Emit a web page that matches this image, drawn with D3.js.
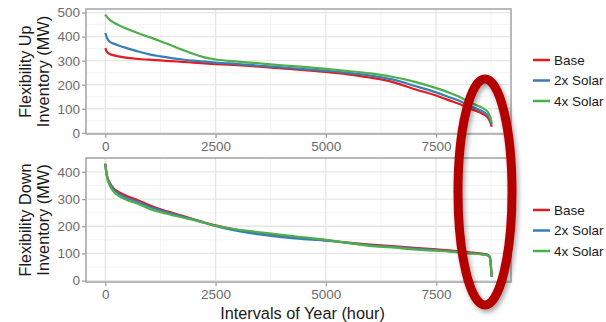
<!DOCTYPE html>
<html>
<head>
<meta charset="utf-8">
<script src="https://cdn.jsdelivr.net/npm/d3@7"></script>
<style>
  body { margin: 0; background: #fff; }
  svg { display: block; font-family: "Liberation Sans", Arial, sans-serif; }
</style>
</head>
<body>
<div id="chart"></div>
<script>
// series names and colours
const seriesNames = ["Base", "2x Solar", "4x Solar"];
const seriesColors = ["#E41A1C", "#377EB8", "#4DAF4A"];

// x axis (hours)
const xTicks = [0, 2500, 5000, 7500];

// flexibility up inventory (MW)
const hoursUp = [0, 25, 50, 100, 200, 300, 500, 750, 1000, 1250, 1500, 1750, 2000, 2250, 2500,
                 3000, 3500, 4000, 4500, 5000, 5500, 6000, 6500, 7000, 7500, 7800, 8000, 8250,
                 8500, 8600, 8700, 8740, 8760];
const upBase   = [352, 340, 334, 328, 322, 318, 312, 307, 304, 301, 298, 295, 292, 289, 286,
                  281, 275, 268, 261, 253, 243, 230, 212, 182, 155, 135, 122, 102,
                  84, 74, 55, 38, 25];
const upSolar2 = [415, 400, 390, 379, 370, 363, 351, 338, 326, 318, 311, 305, 300, 296, 292,
                  286, 279, 272, 265, 258, 249, 238, 222, 196, 168, 148, 135, 113,
                  94, 84, 66, 48, 35];
const upSolar4 = [492, 485, 479, 470, 458, 448, 432, 414, 398, 381, 363, 345, 328, 314, 305,
                  296, 289, 281, 274, 266, 257, 247, 233, 213, 186, 167, 152, 128,
                  108, 98, 78, 58, 42];
const upTicks = [0, 100, 200, 300, 400, 500];

// flexibility down inventory (MW)
const hoursDown = [0, 25, 50, 100, 200, 300, 500, 750, 1000, 1250, 1500, 1750, 2000, 2250, 2500,
                   3000, 3500, 4000, 4500, 5000, 5500, 6000, 6500, 7000, 7500, 7800, 8000, 8250,
                   8500, 8600, 8680, 8720, 8745, 8760];
const downBase   = [430, 398, 378, 360, 337, 326, 310, 295, 277, 262, 250, 238, 226, 214, 203,
                    186, 174, 163, 155, 148, 140, 133, 127, 121, 115, 111, 108, 104,
                    100, 98, 94, 86, 50, 15];
const downSolar2 = [428, 396, 375, 356, 332, 320, 303, 289, 272, 259, 247, 236, 225, 213, 201,
                    183, 170, 160, 153, 147, 139, 130, 124, 118, 112, 108, 105, 101,
                    98, 96, 93, 85, 48, 15];
const downSolar4 = [430, 395, 372, 350, 325, 312, 296, 282, 264, 252, 242, 232, 223, 212, 202,
                    188, 178, 168, 159, 150, 139, 128, 122, 115, 110, 107, 104, 100,
                    97, 95, 91, 83, 45, 15];
const downTicks = [0, 100, 200, 300, 400];

// size setup
const width = 606, height = 322;
const plotLeft = 86, plotRight = 511;

const svg = d3.select("#chart").append("svg")
    .attr("width", width)
    .attr("height", height);

// drop shadow for the highlight ellipse
svg.append("defs").append("filter")
    .attr("id", "shadow")
    .attr("x", "-50%").attr("y", "-50%").attr("width", "200%").attr("height", "200%")
  .append("feDropShadow")
    .attr("dx", 2).attr("dy", 3)
    .attr("stdDeviation", 2.5)
    .attr("flood-color", "#000")
    .attr("flood-opacity", 0.35);

const xScale = d3.scaleLinear().domain([-438, 9198]).range([plotLeft, plotRight]);

function midpoints(ticks){
    const step = ticks[1] - ticks[0];
    return ticks.map(t => t + step / 2);
}

function drawPanel(cfg){
    const yScale = d3.scaleLinear().domain(cfg.yDomain).range([cfg.bottom, cfg.top]);
    const g = svg.append("g");

    // panel background
    g.append("rect")
        .attr("x", plotLeft).attr("y", cfg.top)
        .attr("width", plotRight - plotLeft).attr("height", cfg.bottom - cfg.top)
        .attr("fill", "#fff");

    // minor grid
    const xMinor = midpoints(xTicks).filter(v => v < xScale.domain()[1]);
    const yMinor = midpoints(cfg.yTicks).filter(v => v < cfg.yDomain[1]);
    g.selectAll(".xminor").data(xMinor).enter().append("line")
        .attr("x1", d => xScale(d)).attr("x2", d => xScale(d))
        .attr("y1", cfg.top).attr("y2", cfg.bottom)
        .attr("stroke", "#f4f4f4").attr("stroke-width", 1);
    g.selectAll(".yminor").data(yMinor).enter().append("line")
        .attr("x1", plotLeft).attr("x2", plotRight)
        .attr("y1", d => yScale(d)).attr("y2", d => yScale(d))
        .attr("stroke", "#f4f4f4").attr("stroke-width", 1);

    // major grid
    g.selectAll(".xmajor").data(xTicks).enter().append("line")
        .attr("x1", d => xScale(d)).attr("x2", d => xScale(d))
        .attr("y1", cfg.top).attr("y2", cfg.bottom)
        .attr("stroke", "#e6e6e6").attr("stroke-width", 1.3);
    g.selectAll(".ymajor").data(cfg.yTicks).enter().append("line")
        .attr("x1", plotLeft).attr("x2", plotRight)
        .attr("y1", d => yScale(d)).attr("y2", d => yScale(d))
        .attr("stroke", "#e6e6e6").attr("stroke-width", 1.3);

    // lines
    const line = d3.line()
        .x((d, i) => xScale(cfg.hours[i]))
        .y(d => yScale(d))
        .curve(d3.curveMonotoneX);

    cfg.series.forEach((vals, i) => {
        g.append("path")
            .datum(vals)
            .attr("d", line)
            .attr("fill", "none")
            .attr("stroke", seriesColors[i])
            .attr("stroke-width", 2.2)
            .attr("stroke-linejoin", "round");
    });

    // border
    g.append("rect")
        .attr("x", plotLeft).attr("y", cfg.top)
        .attr("width", plotRight - plotLeft).attr("height", cfg.bottom - cfg.top)
        .attr("fill", "none")
        .attr("stroke", "#a3a3a3").attr("stroke-width", 1.5);

    // axes
    const yAxis = d3.axisLeft(yScale).tickValues(cfg.yTicks).tickSize(4).tickPadding(2);
    const xAxis = d3.axisBottom(xScale).tickValues(xTicks).tickFormat(d3.format("d"))
        .tickSize(4).tickPadding(3);

    const ay = g.append("g").attr("transform", "translate(" + plotLeft + ",0)").call(yAxis);
    const ax = g.append("g").attr("transform", "translate(0," + cfg.bottom + ")").call(xAxis);

    [ax, ay].forEach(a => {
        a.select(".domain").remove();
        a.selectAll(".tick line").attr("stroke", "#a3a3a3").attr("stroke-width", 1.3);
        a.selectAll(".tick text")
            .attr("fill", "#6b6b6b")
            .style("font-size", "13.5px")
            .style("font-family", "'Liberation Sans', Arial, sans-serif");
    });

    // y title (two lines)
    const cy = (cfg.top + cfg.bottom) / 2;
    cfg.title.forEach((t, i) => {
        g.append("text")
            .attr("transform", "translate(" + (31 + i * 18) + "," + cy + ") rotate(-90)")
            .attr("text-anchor", "middle")
            .attr("fill", "#1a1a1a")
            .style("font-size", "16.3px")
            .text(t);
    });

    // legend
    const lg = g.append("g").attr("transform", "translate(533," + cfg.legendY + ")");
    seriesNames.forEach((name, i) => {
        const row = lg.append("g").attr("transform", "translate(0," + (i * 20.5) + ")");
        row.append("line")
            .attr("x1", 0).attr("x2", 17)
            .attr("stroke", seriesColors[i]).attr("stroke-width", 2.5);
        row.append("text")
            .attr("x", 21).attr("dy", "0.35em")
            .attr("fill", "#1a1a1a")
            .style("font-size", "13.5px")
            .text(name);
    });
}

drawPanel({
    top: 9, bottom: 134, yDomain: [-5, 515], yTicks: upTicks,
    hours: hoursUp, series: [upBase, upSolar2, upSolar4],
    title: ["Flexibility Up", "Inventory (MW)"], legendY: 60
});

drawPanel({
    top: 158, bottom: 282, yDomain: [-5, 451], yTicks: downTicks,
    hours: hoursDown, series: [downBase, downSolar2, downSolar4],
    title: ["Flexibility Down", "Inventory (MW)"], legendY: 210
});

// x axis title
svg.append("text")
    .attr("x", (plotLeft + plotRight) / 2 + 4)
    .attr("y", 319)
    .attr("text-anchor", "middle")
    .attr("fill", "#1a1a1a")
    .style("font-size", "16.3px")
    .text("Intervals of Year (hour)");

// highlight ellipse round the tail
svg.append("ellipse")
    .attr("cx", 485).attr("cy", 192)
    .attr("rx", 27).attr("ry", 113)
    .attr("fill", "none")
    .attr("stroke", "#b50000")
    .attr("stroke-width", 9)
    .attr("filter", "url(#shadow)");
</script>
</body>
</html>
